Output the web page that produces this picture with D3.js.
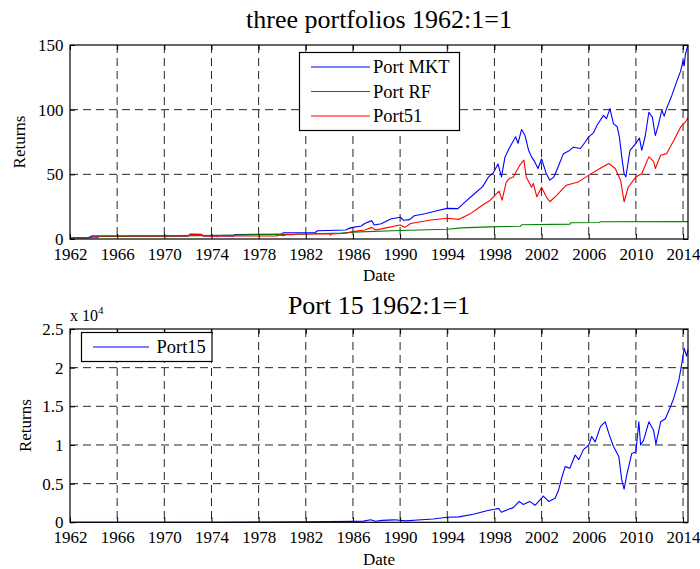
<!DOCTYPE html>
<html>
<head>
<meta charset="utf-8">
<script src="https://cdn.jsdelivr.net/npm/d3@7"></script>
<style>
  html, body { margin: 0; padding: 0; background: #fff; }
  svg { display: block; }
  text { font-family: "Liberation Serif", "Times New Roman", serif; fill: #000; }
</style>
</head>
<body>
<svg id="chart" width="700" height="569"></svg>
<script>
// ---------------- DATA ----------------
const yearTicks = [1962, 1966, 1970, 1974, 1978, 1982, 1986, 1990, 1994, 1998, 2002, 2006, 2010, 2014];
const topYTicks = [0, 50, 100, 150];
const bottomYTicks = [0, 5000, 10000, 15000, 20000, 25000];
const topTitle = "three portfolios 1962:1=1";
const bottomTitle = "Port 15 1962:1=1";
const topLegend = ["Port MKT", "Port RF", "Port51"];
const bottomLegend = ["Port15"];

const mktYears = [1962.0,1963.6,1963.8,1966.0,1970.0,1972.0,1972.2,1973.1,1973.3,1975.9,1976.0,1979.9,1980.1,1982.8,1983.0,1985.4,1985.6,1986.0,1986.7,1987.0,1987.6,1987.8,1988.4,1989.2,1990.0,1990.3,1990.8,1991.2,1992.1,1993.2,1994.0,1994.9,1995.5,1996.3,1997.0,1997.5,1997.9,1998.3,1998.6,1998.9,1999.3,1999.8,2000.0,2000.3,2000.6,2000.9,2001.15,2001.4,2001.7,2002.0,2002.4,2002.7,2003.05,2003.5,2003.85,2004.3,2004.7,2005.3,2005.7,2006.0,2006.4,2006.7,2007.25,2007.5,2007.8,2008.1,2008.4,2008.6,2008.8,2009.0,2009.15,2009.5,2010.0,2010.3,2010.5,2010.8,2011.1,2011.4,2011.65,2011.9,2012.2,2012.4,2012.6,2013.05,2013.5,2013.8,2014.0,2014.1,2014.2,2014.42];
const mktValues = [1.0,1.1,2.2,2.2,2.3,2.4,3.8,3.7,2.4,2.4,3.5,3.6,4.8,5.0,6.4,7.0,8.0,9.0,10.0,12.0,14.2,10.8,11.8,15.5,16.8,14.5,15.0,18.0,19.5,22.0,23.7,23.5,28.5,35,40.5,48,51,58,48,63.5,71,79,74,84.6,80,68.6,63.5,60,54.5,62,50.6,45.5,48,58,66,68,71,70,75,79,82,88,95.6,93,100.8,89,87,79,63.5,50.6,48,68.6,74,78,68.6,80,98,94,80,88,99.5,95,100.8,111,122.6,130,138,134,143,150];

const rfYears = [1962.0,1964.3,1964.5,1970,1976,1978,1982,1985,1986,1990,1994,1995.2,1997.6,2000.2,2000.3,2004.4,2004.5,2006.9,2007.0,2014.42];
const rfValues = [1.0,1.0,1.9,2.2,3.0,3.4,3.9,4.6,5.3,6.6,7.5,8.6,9.4,9.8,11.0,11.5,12.6,12.8,13.3,13.4];

const p51Years = [1962.0,1963.8,1963.9,1972.0,1972.2,1973.2,1973.3,1974.4,1974.5,1974.6,1979.5,1979.8,1980.1,1980.4,1981.0,1981.2,1984.0,1984.1,1984.2,1985.4,1986.0,1987.0,1987.6,1987.9,1988.5,1990.0,1990.4,1990.9,1992.6,1994.0,1995.0,1996.0,1997.0,1997.65,1998.2,1998.4,1998.65,1999.0,1999.3,1999.6,2000.15,2000.5,2000.7,2001.15,2001.3,2001.6,2002.0,2002.4,2002.7,2003.3,2004.1,2005.1,2006.0,2006.95,2007.7,2008.25,2008.7,2009.0,2009.35,2010.0,2010.5,2011.1,2011.5,2011.65,2012.1,2012.6,2013.2,2013.8,2014.2,2014.42];
const p51Values = [1.0,1.0,2.3,2.3,3.5,3.4,2.3,2.3,1.6,2.3,2.4,3.2,2.6,3.4,3.3,3.9,3.9,3.0,3.9,4.4,5.7,7.0,9.0,7.0,8.0,10.8,9.0,12.0,14.7,16.0,15.2,19.8,26.3,30,35.3,37,30,44,47,48,57,61,48,40,43,32.6,40,32.6,28.8,34,41.6,44,49.4,54.5,58.4,54.5,45.5,28.8,40,48,50.6,63.5,60,54.5,64.8,66,76,86.6,90.5,93.8];

const p15Years = [1962.0,1966,1970,1974,1978,1982,1986,1986.9,1987.5,1987.9,1988.5,1989.5,1990.5,1991.5,1992.8,1994.0,1995.0,1996.3,1997.35,1998.0,1998.35,1998.6,1999.2,1999.6,2000.1,2000.45,2001.0,2001.45,2002.15,2002.6,2003.15,2003.45,2003.7,2004.0,2004.4,2004.85,2005.15,2005.55,2006.0,2006.25,2006.55,2007.0,2007.4,2007.7,2008.1,2008.55,2008.8,2009.0,2009.25,2009.65,2010.0,2010.25,2010.4,2010.65,2011.1,2011.5,2011.7,2012.1,2012.5,2012.95,2013.2,2013.65,2013.9,2014.1,2014.3,2014.42];
const p15Values = [1,5,12,10,30,70,120,150,330,130,250,320,180,300,420,650,700,1080,1500,1680,1800,1300,1700,1900,2700,2300,2700,2200,3400,2700,3100,4200,5700,7200,7000,8700,8100,9400,10000,11100,10400,12400,13000,11500,9800,8500,5500,4300,6300,8900,9100,13000,10000,10600,13000,11900,10100,13000,13400,15000,16000,18400,20600,22500,21500,22300];

// ---------------- DRAWING ----------------
const svg = d3.select("#chart");
const FONT = 17;
const left = 70, right = 688;

function zip(xs, ys) { return xs.map((x, i) => ({ x: x, y: ys[i] })); }

function panel(opts) {
  const x = d3.scaleLinear().domain([1962, 2014.42]).range([left, right]);
  const y = d3.scaleLinear().domain(opts.yDomain).range([opts.bottom, opts.top]);
  const g = svg.append("g");

  // grid
  g.append("g").selectAll("line.v").data(yearTicks.slice(1)).join("line")
    .attr("x1", d => x(d)).attr("x2", d => x(d))
    .attr("y1", opts.top).attr("y2", opts.bottom)
    .attr("stroke", "#262626").attr("stroke-width", 1).attr("stroke-dasharray", "8,5");
  g.append("g").selectAll("line.h").data(opts.yTicks.slice(1, -1)).join("line")
    .attr("x1", left).attr("x2", right)
    .attr("y1", d => y(d)).attr("y2", d => y(d))
    .attr("stroke", "#262626").attr("stroke-width", 1).attr("stroke-dasharray", "8,5");

  // series
  const line = d3.line().x(d => x(d.x)).y(d => y(d.y));
  opts.series.forEach(s => {
    g.append("path").datum(zip(s.xs, s.ys))
      .attr("fill", "none").attr("stroke", s.color).attr("stroke-width", 1.1)
      .attr("stroke-linejoin", "round").attr("d", line);
  });

  // axes (inside ticks)
  const ax = g.append("g").attr("transform", `translate(0,${opts.bottom})`)
    .call(d3.axisBottom(x).tickValues(yearTicks).tickFormat(d3.format("d")).tickSize(-5).tickPadding(opts.xPad));
  ax.select(".domain").remove();
  ax.selectAll("text").style("font-size", FONT + "px").style("font-family", "Liberation Serif");
  ax.selectAll("line").attr("stroke", "#000");

  const at = g.append("g").attr("transform", `translate(0,${opts.top})`)
    .call(d3.axisTop(x).tickValues(yearTicks).tickFormat("").tickSize(-5));
  at.select(".domain").remove();

  const ay = g.append("g").attr("transform", `translate(${left},0)`)
    .call(d3.axisLeft(y).tickValues(opts.yTicks).tickFormat(opts.yFormat).tickSize(-5).tickPadding(6.5));
  ay.select(".domain").remove();
  ay.selectAll("text").style("font-size", FONT + "px").style("font-family", "Liberation Serif");

  const ar = g.append("g").attr("transform", `translate(${right},0)`)
    .call(d3.axisRight(y).tickValues(opts.yTicks).tickFormat("").tickSize(-5));
  ar.select(".domain").remove();

  // box
  g.append("rect").attr("x", left).attr("y", opts.top)
    .attr("width", right - left).attr("height", opts.bottom - opts.top)
    .attr("fill", "none").attr("stroke", "#000").attr("stroke-width", 1.2);

  // title, labels
  g.append("text").attr("x", (left + right) / 2).attr("y", opts.titleY)
    .attr("text-anchor", "middle").style("font-size", "26px").text(opts.title);
  g.append("text").attr("x", (left + right) / 2).attr("y", opts.dateY)
    .attr("text-anchor", "middle").style("font-size", FONT + "px").text("Date");
  g.append("text").attr("transform", `translate(${opts.retX},${(opts.top + opts.bottom) / 2}) rotate(-90)`)
    .attr("text-anchor", "middle").style("font-size", FONT + "px").text("Returns");

  // legend
  const L = opts.legend;
  g.append("rect").attr("x", L.x).attr("y", L.y).attr("width", L.w).attr("height", L.h)
    .attr("fill", "#fff").attr("stroke", "#000").attr("stroke-width", 1.2);
  L.labels.forEach((lab, i) => {
    const cy = L.firstY + i * L.step;
    g.append("line").attr("x1", L.lx1).attr("x2", L.lx2).attr("y1", cy).attr("y2", cy)
      .attr("stroke", opts.series[i].color).attr("stroke-width", 1.1);
    g.append("text").attr("x", L.tx).attr("y", cy).attr("dy", "0.35em")
      .style("font-size", "18.5px").text(lab);
  });
  return { x, y, g };
}

panel({
  top: 45, bottom: 239, yDomain: [0, 150], yTicks: topYTicks, yFormat: d3.format("d"),
  xPad: 9, title: topTitle, titleY: 28, dateY: 281, retX: 25,
  series: [
    { xs: mktYears, ys: mktValues, color: "#0000ff" },
    { xs: rfYears, ys: rfValues, color: "#008000" },
    { xs: p51Years, ys: p51Values, color: "#ff0000" }
  ],
  legend: { x: 299.5, y: 52.5, w: 160, h: 78, labels: topLegend, firstY: 67, step: 24.5, lx1: 311, lx2: 370, tx: 373 }
});

panel({
  top: 329, bottom: 522.3, yDomain: [0, 25000], yTicks: bottomYTicks, yFormat: d => d3.format("")(d / 10000),
  xPad: 9, title: bottomTitle, titleY: 314, dateY: 565, retX: 31,
  series: [{ xs: p15Years, ys: p15Values, color: "#0000ff" }],
  legend: { x: 81.5, y: 332.5, w: 130.5, h: 29, labels: bottomLegend, firstY: 347, step: 0, lx1: 93, lx2: 149, tx: 156.5 }
});

// exponent label
const ex = svg.append("text").attr("x", 70).attr("y", 321).style("font-size", "16px");
ex.append("tspan").text("x 10");
ex.append("tspan").attr("dy", -7).style("font-size", "11px").text("4");
</script>
</body>
</html>
